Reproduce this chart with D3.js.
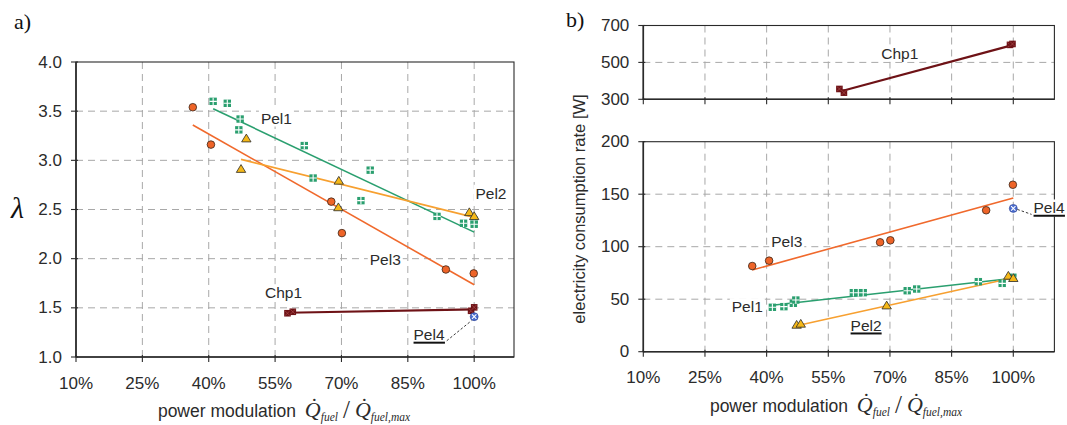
<!DOCTYPE html>
<html><head><meta charset="utf-8">
<script src="https://cdn.jsdelivr.net/npm/d3@7"></script>
<style>body{margin:0;background:#fff} svg{display:block}</style>
</head><body><svg id="c" width="1067" height="425"></svg>
<script>
// ---------- axis ticks ----------
const ticksX = [10, 25, 40, 55, 70, 85, 100];
const tickLabelsX = ['10%', '25%', '40%', '55%', '70%', '85%', '100%'];
const ticksLambda = [1.0, 1.5, 2.0, 2.5, 3.0, 3.5, 4.0];
const ticksChp = [300, 500, 700];
const ticksElec = [0, 50, 100, 150, 200];

// ---------- panel a) lambda ----------
const aPel1X = [41.0, 44.2, 47.1, 46.8, 61.6, 63.6, 76.5, 74.4, 91.6, 97.6, 100, 100];
const aPel1Y = [3.60, 3.58, 3.42, 3.31, 3.15, 2.82, 2.90, 2.59, 2.43, 2.36, 2.39, 2.35];
const aPel1Fit = [[41.0, 3.525], [100, 2.27]];

const aPel2X = [48.5, 47.3, 69.4, 69.3, 98.9, 100];
const aPel2Y = [3.22, 2.91, 2.79, 2.52, 2.47, 2.43];
const aPel2Fit = [[47.3, 3.01], [100, 2.42]];

const aPel3X = [36.4, 40.5, 67.7, 70.1, 93.6, 99.9];
const aPel3Y = [3.54, 3.16, 2.58, 2.26, 1.89, 1.85];
const aPel3Fit = [[36.4, 3.36], [100, 1.735]];

const aChp1X = [57.8, 59.0, 99.3, 100];
const aChp1Y = [1.445, 1.46, 1.47, 1.505];
const aChp1Fit = [[57.8, 1.45], [100, 1.485]];

const aPel4X = [100];
const aPel4Y = [1.41];

// ---------- panel b) electricity consumption ----------
const bChp1X = [57.7, 58.8, 99.2, 99.8];
const bChp1Y = [356, 336, 595, 600];
const bChp1Fit = [[58.3, 345], [100, 595]];

const bPel3X = [36.5, 40.6, 67.6, 70.1, 93.4, 99.9];
const bPel3Y = [81.6, 86.7, 104.2, 106.1, 134.7, 159];
const bPel3Fit = [[36.5, 77.8], [100, 146.4]];

const bPel1X = [41.4, 44.2, 46.5, 47.1, 61.1, 62.3, 63.5, 74.2, 76.5, 91.5, 97.3, 99.9];
const bPel1Y = [42.3, 42.9, 46.1, 49.2, 56.2, 56.2, 56.2, 58.1, 59.7, 66.7, 65.1, 70.9];
const bPel1Fit = [[41.4, 44.3], [100, 69.9]];

const bPel2X = [47.3, 48.3, 69.2, 98.8, 100];
const bPel2Y = [25.4, 26.4, 43.8, 72.1, 69.9];
const bPel2Fit = [[47.3, 24.8], [100, 70.5]];

const bPel4X = [100];
const bPel4Y = [136.5];

// ---------- styles ----------
const SANS = "'Liberation Sans', Arial, sans-serif";
const SERIF = "'Liberation Serif', 'Times New Roman', serif";
const C = {
  pel1: '#2a9f6f', pel2: '#f7a030', pel2fill: '#f5b818', pel3: '#f0692c', pel3fill: '#ee6428',
  chp: '#6e1216', pel4: '#4a6cd0', grid: '#a8a8a8', axis: '#2a2a2a', text: '#2b2b2b'
};

const svg = d3.select('#c');
svg.append('rect').attr('width', 1067).attr('height', 425).attr('fill', '#fff');

function makePanel(box, xMax, yDomain, yTicks, fmt, showXLabels, labelOffset) {
  const x = d3.scaleLinear().domain([10, xMax]).range([box.x0, box.x1]);
  const y = d3.scaleLinear().domain(yDomain).range([box.y1, box.y0]);
  const g = svg.append('g');
  const grid = g.append('g');
  ticksX.filter(t => t > 10).forEach(t => {
    grid.append('line').attr('x1', x(t)).attr('x2', x(t)).attr('y1', box.y0).attr('y2', box.y1)
      .attr('stroke', C.grid).attr('stroke-width', 1).attr('stroke-dasharray', '7,5');
  });
  yTicks.filter(t => t > yDomain[0] && t < yDomain[1]).forEach(t => {
    grid.append('line').attr('x1', box.x0).attr('x2', box.x1).attr('y1', y(t)).attr('y2', y(t))
      .attr('stroke', C.grid).attr('stroke-width', 1).attr('stroke-dasharray', '7,5');
  });
  g.append('rect').attr('x', box.x0).attr('y', box.y0).attr('width', box.x1 - box.x0).attr('height', box.y1 - box.y0)
    .attr('fill', 'none').attr('stroke', C.axis).attr('stroke-width', 1.1);
  g.append('line').attr('x1', box.x0).attr('x2', box.x0).attr('y1', box.y0).attr('y2', box.y1)
    .attr('stroke', C.axis).attr('stroke-width', 1.6);
  g.append('line').attr('x1', box.x0).attr('x2', box.x1).attr('y1', box.y1).attr('y2', box.y1)
    .attr('stroke', C.axis).attr('stroke-width', 1.6);
  ticksX.forEach((t, i) => {
    g.append('line').attr('x1', x(t)).attr('x2', x(t)).attr('y1', box.y1 - 2).attr('y2', box.y1 + 5)
      .attr('stroke', C.axis).attr('stroke-width', 1.1);
    if (showXLabels) {
      g.append('text').attr('x', x(t)).attr('y', box.y1 + labelOffset).attr('text-anchor', 'middle')
        .attr('dominant-baseline', 'central').attr('font-family', SANS).attr('font-size', 17)
        .attr('fill', C.text).text(tickLabelsX[i]);
    }
  });
  yTicks.forEach(t => {
    g.append('line').attr('x1', box.x0 - 5).attr('x2', box.x0 + 2).attr('y1', y(t)).attr('y2', y(t))
      .attr('stroke', C.axis).attr('stroke-width', 1.1);
    g.append('text').attr('x', box.x0 - 14).attr('y', y(t)).attr('text-anchor', 'end')
      .attr('dominant-baseline', 'central').attr('font-family', SANS).attr('font-size', 17)
      .attr('fill', C.text).text(fmt(t));
  });
  const layer = g.append('g');
  return { x, y, g: layer, box };
}

function fitLine(p, pts, color, w) {
  p.g.append('path').attr('d', d3.line().x(d => p.x(d[0])).y(d => p.y(d[1]))(pts))
    .attr('fill', 'none').attr('stroke', color).attr('stroke-width', w);
}

function markers(p, xs, ys, kind) {
  xs.forEach((xv, i) => {
    const m = p.g.append('g').attr('transform', `translate(${p.x(xv)},${p.y(ys[i])})`);
    if (kind === 'circle') {
      m.append('circle').attr('r', 3.8).attr('fill', C.pel3fill).attr('stroke', '#3a2418').attr('stroke-width', 0.8);
    } else if (kind === 'square') {
      m.append('rect').attr('x', -3.7).attr('y', -3.7).attr('width', 7.4).attr('height', 7.4).attr('fill', C.pel1);
      m.append('path').attr('d', 'M-3.7,0H3.7M0,-3.7V3.7').attr('stroke', '#fff').attr('stroke-width', 1.1);
    } else if (kind === 'triangle') {
      m.append('path').attr('d', 'M0,-4.6L4.7,3.2L-4.7,3.2Z').attr('fill', C.pel2fill)
        .attr('stroke', '#2a2a2a').attr('stroke-width', 0.8);
    } else if (kind === 'chp') {
      m.append('rect').attr('x', -3.3).attr('y', -3.3).attr('width', 6.6).attr('height', 6.6).attr('fill', C.chp);
      m.append('path').attr('d', 'M-2.5,-2.5L2.5,2.5M2.5,-2.5L-2.5,2.5').attr('stroke', '#a84a4a').attr('stroke-width', 0.7);
    } else if (kind === 'pel4') {
      m.append('circle').attr('r', 4).attr('fill', C.pel4).attr('stroke', '#2c4290').attr('stroke-width', 0.6);
      m.append('path').attr('d', 'M-2.2,-2.2L2.2,2.2M2.2,-2.2L-2.2,2.2').attr('stroke', '#fff').attr('stroke-width', 1.1);
    }
  });
}

function label(p, text, xv, yv, underline) {
  const cx = p.x(xv), cy = p.y(yv);
  const bg = p.g.append('rect').attr('fill', '#fff');
  const t = p.g.append('text').attr('x', cx).attr('y', cy).attr('text-anchor', 'middle')
    .attr('dominant-baseline', 'central').attr('font-family', SANS).attr('font-size', 15.5)
    .attr('fill', C.text).text(text);
  const bb = t.node().getBBox();
  bg.attr('x', bb.x - 2).attr('y', bb.y).attr('width', bb.width + 4).attr('height', bb.height);
  if (underline) {
    p.g.append('line').attr('x1', bb.x).attr('x2', bb.x + bb.width).attr('y1', cy + 7.8).attr('y2', cy + 7.8)
      .attr('stroke', '#111').attr('stroke-width', 2);
  }
  return bb;
}

function leader(p, from, to) {
  p.g.append('line').attr('x1', p.x(from[0])).attr('y1', p.y(from[1])).attr('x2', p.x(to[0])).attr('y2', p.y(to[1]))
    .attr('stroke', '#222').attr('stroke-width', 0.9).attr('stroke-dasharray', '2.5,2');
}

function xTitle(cx, baseY) {
  const t = svg.append('text').attr('x', cx).attr('y', baseY).attr('text-anchor', 'middle').attr('fill', C.text);
  t.append('tspan').attr('font-family', SANS).attr('font-size', 17.5).text('power modulation\u2002');
  t.append('tspan').attr('font-family', SERIF).attr('font-style', 'italic').attr('font-size', 22).text('Q\u0307');
  t.append('tspan').attr('font-family', SERIF).attr('font-style', 'italic').attr('font-size', 11.5).attr('dy', 4).text('fuel');
  t.append('tspan').attr('font-family', SERIF).attr('font-size', 25).attr('dy', -3).text('\u2009/\u2009');
  t.append('tspan').attr('font-family', SERIF).attr('font-style', 'italic').attr('font-size', 22).attr('dy', -1).text('Q\u0307');
  t.append('tspan').attr('font-family', SERIF).attr('font-style', 'italic').attr('font-size', 11.5).attr('dy', 4).text('fuel,max');
}

// ---------- panel a ----------
const pa = makePanel({ x0: 76, x1: 514, y0: 62, y1: 357 }, 109, [1, 4], ticksLambda, d3.format('.1f'), true, 26);
fitLine(pa, aPel3Fit, C.pel3, 1.6);
fitLine(pa, aPel1Fit, C.pel1, 1.6);
fitLine(pa, aPel2Fit, C.pel2, 1.6);
fitLine(pa, aChp1Fit, C.chp, 2.2);
markers(pa, aPel1X, aPel1Y, 'square');
markers(pa, aPel3X, aPel3Y, 'circle');
markers(pa, aPel2X, aPel2Y, 'triangle');
markers(pa, aChp1X, aChp1Y, 'chp');
markers(pa, aPel4X, aPel4Y, 'pel4');
label(pa, 'Pel1', 55.3, 3.43);
label(pa, 'Pel2', 103.8, 2.665);
label(pa, 'Pel3', 79.9, 1.99);
label(pa, 'Chp1', 56.9, 1.654);
label(pa, 'Pel4', 89.8, 1.225, true);
leader(pa, [93.8, 1.165], [99.4, 1.37]);

svg.append('text').attr('x', 14).attr('y', 29).attr('font-family', SERIF).attr('font-size', 22).attr('fill', '#111').text('a)');
svg.append('text').attr('x', 11).attr('y', 218).attr('font-family', SERIF).attr('font-style', 'italic')
  .attr('font-size', 30).attr('fill', '#111').text('λ');
xTitle(284, 417);

// ---------- panel b ----------
const pt = makePanel({ x0: 643.3, x1: 1054.4, y0: 25.5, y1: 99.3 }, 110, [300, 700], ticksChp, d3.format('d'), false, 0);
fitLine(pt, bChp1Fit, C.chp, 2.2);
markers(pt, bChp1X, bChp1Y, 'chp');
label(pt, 'Chp1', 72.4, 550);

const pb = makePanel({ x0: 643.3, x1: 1054.4, y0: 141.7, y1: 351.7 }, 110, [0, 200], ticksElec, d3.format('d'), true, 26);
fitLine(pb, bPel3Fit, C.pel3, 1.6);
fitLine(pb, bPel1Fit, C.pel1, 1.6);
fitLine(pb, bPel2Fit, C.pel2, 1.6);
markers(pb, bPel3X, bPel3Y, 'circle');
markers(pb, bPel1X, bPel1Y, 'square');
markers(pb, bPel2X, bPel2Y, 'triangle');
markers(pb, bPel4X, bPel4Y, 'pel4');
label(pb, 'Pel3', 44.9, 104.8);
label(pb, 'Pel1', 35.3, 42.9);
label(pb, 'Pel2', 64.2, 24.8, true);
leader(pb, [101.0, 135.5], [105.0, 130.0]);
label(pb, 'Pel4', 108.7, 136.9, true);

svg.append('text').attr('x', 566).attr('y', 27).attr('font-family', SERIF).attr('font-size', 22).attr('fill', '#111').text('b)');
svg.append('text').attr('transform', 'translate(585,209) rotate(-90)').attr('text-anchor', 'middle')
  .attr('font-family', SANS).attr('font-size', 16.5).attr('fill', C.text).text('electricity consumption rate [W]');
xTitle(836, 412);
</script></body></html>
